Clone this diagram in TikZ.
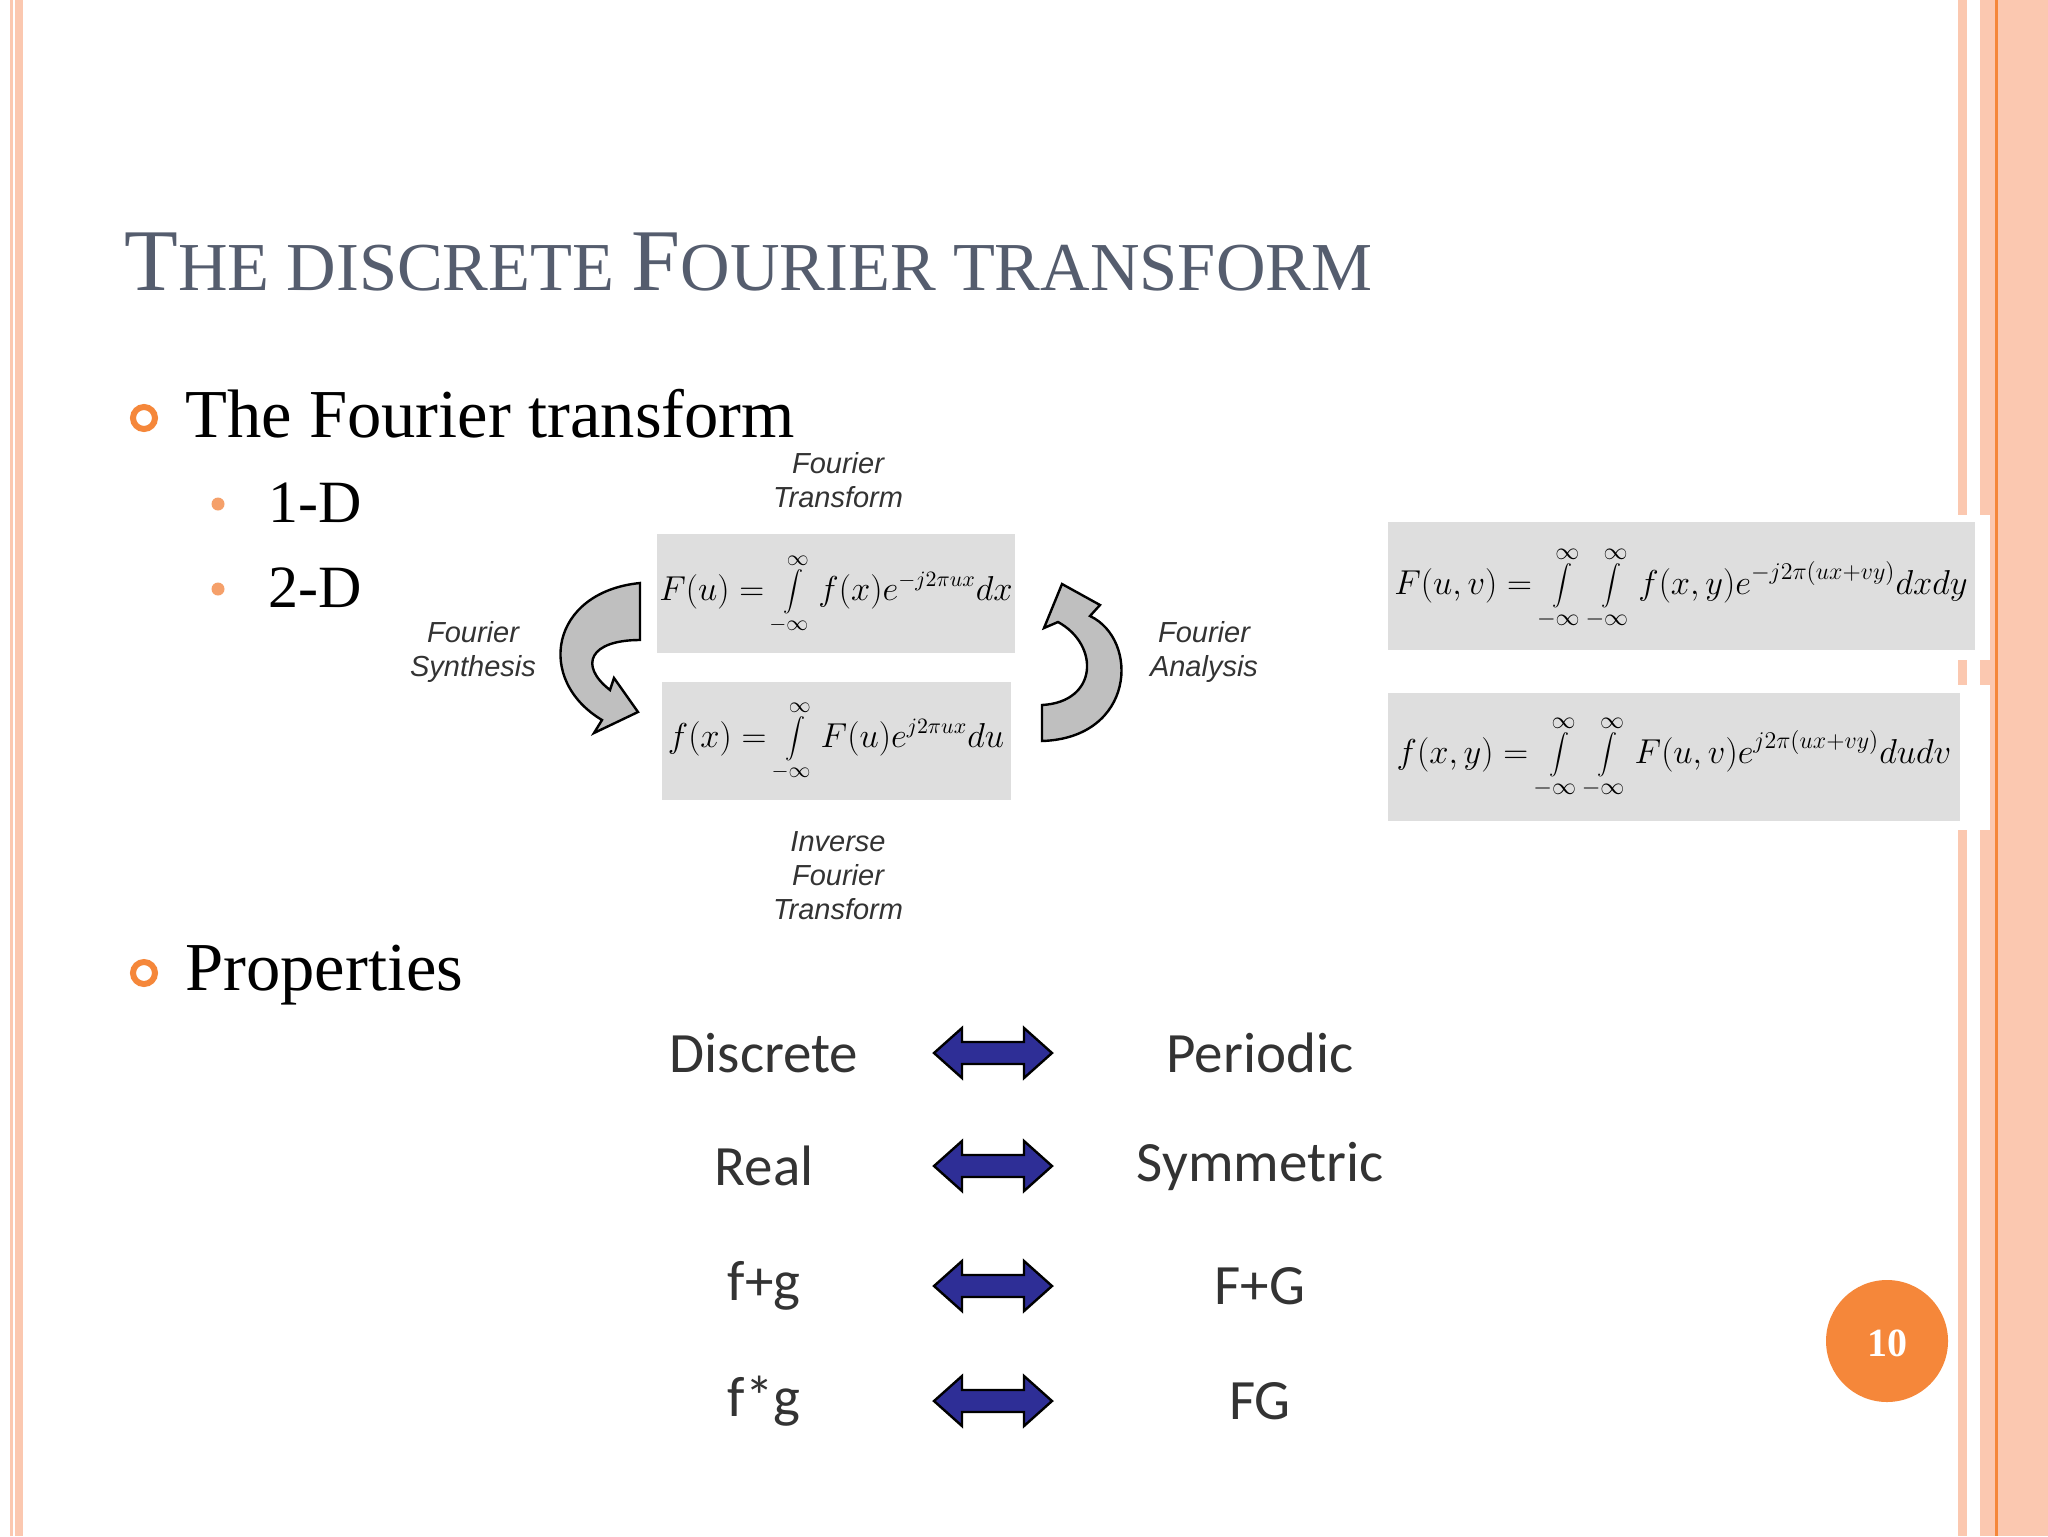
\documentclass[tikz,border=0pt]{standalone}
\usepackage{fontspec}
\setmainfont{Liberation Serif}
\newfontfamily\arialfont{Liberation Sans}
\newfontfamily\calfont{Carlito}
\definecolor{peach}{HTML}{FBC8B0}
\definecolor{orng}{HTML}{F5873A}
\definecolor{subdot}{HTML}{F5A06A}
\definecolor{titlec}{HTML}{555D6E}
\definecolor{boxg}{HTML}{DEDEDE}
\definecolor{navy}{HTML}{2E2E96}
\newcommand{\bigT}[1]{{\fontsize{44}{50}\selectfont #1}}
\newcommand{\smT}[1]{{\fontsize{34.3}{40}\selectfont #1}}
\tikzset{
  lab/.style={font=\arialfont\itshape\fontsize{14.5}{14}\selectfont, text=black!80, align=center, inner sep=0pt},
  prop/.style={font=\calfont\fontsize{28.5}{32}\selectfont, text=black!80, inner sep=0pt},
  dblarrow/.style={fill=navy, draw=black, line width=1.2pt, line join=miter},
  curvarrow/.style={fill=black!25, draw=black, line width=1.2pt}
}
\begin{document}
\begin{tikzpicture}[x=0.5pt,y=-0.5pt]
\useasboundingbox (0,0) rectangle (2048,1536);
\fill[white] (0,0) rectangle (2048,1536);
% borders
\fill[peach] (10,0) rectangle (13,1536);
\fill[peach] (15,0) rectangle (23,1536);
\fill[peach] (1958,0) rectangle (1967,1536);
\fill[peach] (1980,0) rectangle (2048,1536);
\fill[orng] (1995,0) rectangle (1998,1536);
% title
\node[anchor=base west, text=titlec, inner sep=0pt] (title) at (124,290)
  {\bigT{T}\smT{HE DISCRETE }\bigT{F}\smT{OURIER TRANSFORM}};
% bullets
\draw[orng, line width=3pt] (144,418) circle (11);
\node[anchor=base west, inner sep=0pt, font=\fontsize{34.3}{40}\selectfont] (b1) at (185,437) {The Fourier transform};
\fill[subdot] (218,504) circle (6.5);
\node[anchor=base west, inner sep=0pt, font=\fontsize{30}{34}\selectfont] (s1) at (268,522) {1-D};
\fill[subdot] (218,589) circle (6.5);
\node[anchor=base west, inner sep=0pt, font=\fontsize{30}{34}\selectfont] (s2) at (268,607) {2-D};
\draw[orng, line width=3pt] (144,973) circle (11);
\node[anchor=base west, inner sep=0pt, font=\fontsize{34.3}{40}\selectfont] (b2) at (185,990) {Properties};
% 1-D boxes
\fill[boxg] (657,534) rectangle (1015,653);
\node (eq1) at (836,594) {\fontsize{16}{20}\selectfont$\displaystyle F(u)=\int\limits_{-\infty}^{\infty} f(x)e^{-j2\pi ux}dx$};
\fill[boxg] (662,682) rectangle (1011,800);
\node (eq2) at (836,741) {\fontsize{16}{20}\selectfont$\displaystyle f(x)=\int\limits_{-\infty}^{\infty} F(u)e^{j2\pi ux}du$};
% labels
\node[lab] (ft) at (838,480) {Fourier\\[3pt]Transform};
\node[lab] (fs) at (473,652) {Fourier\\[3pt]Synthesis};
\node[lab] (fa) at (1204,652) {Fourier\\[3pt]Analysis};
\node[lab] (ift) at (838,876) {Inverse\\[3pt]Fourier\\[3pt]Transform};
% curved arrows
\path[curvarrow] (640,583) .. controls (550,592) and (535,680) .. (602,720) -- (594,733) -- (638,712) -- (614,678) -- (610,690) .. controls (578,665) and (590,640) .. (640,640) -- cycle;
\path[curvarrow] (1042,741) .. controls (1135,738) and (1140,640) .. (1090,616) -- (1100,605) -- (1062,584) -- (1044,628) -- (1058,622) .. controls (1100,645) and (1098,702) .. (1042,705) -- cycle;
% 2-D boxes
\fill[white] (1950,515) rectangle (1990,660);
\fill[white] (1950,685) rectangle (1990,830);
\fill[boxg] (1388,522) rectangle (1975,650);
\node (eq3) at (1681,588) {\fontsize{18}{20}\selectfont$\displaystyle F(u,v)=\int\limits_{-\infty}^{\infty}\int\limits_{-\infty}^{\infty} f(x,y)e^{-j2\pi(ux+vy)}dxdy$};
\fill[boxg] (1388,693) rectangle (1960,821);
\node (eq4) at (1674,757) {\fontsize{18}{20}\selectfont$\displaystyle f(x,y)=\int\limits_{-\infty}^{\infty}\int\limits_{-\infty}^{\infty} F(u,v)e^{j2\pi(ux+vy)}dudv$};
% properties
\foreach \i/\y/\l/\r in {1/1053/Discrete/Periodic,2/1166/Real/Symmetric,3/1286/f+g/F+G,4/1401/f*g/FG}{
  \node[prop] (l\i) at (764,\y) {\l};
  \node[prop] (r\i) at (1260,\y) {\r};
  \path[dblarrow] (934,\y) -- (962,\y-25) -- (962,\y-11) -- (1024,\y-11) -- (1024,\y-25) -- (1052,\y) -- (1024,\y+25) -- (1024,\y+11) -- (962,\y+11) -- (962,\y+25) -- cycle;
}
% page number
\fill[orng] (1887,1341) circle (61);
\node[text=white, font=\bfseries\fontsize{20}{22}\selectfont] (pg) at (1887,1343) {10};
\end{tikzpicture}
\end{document}
